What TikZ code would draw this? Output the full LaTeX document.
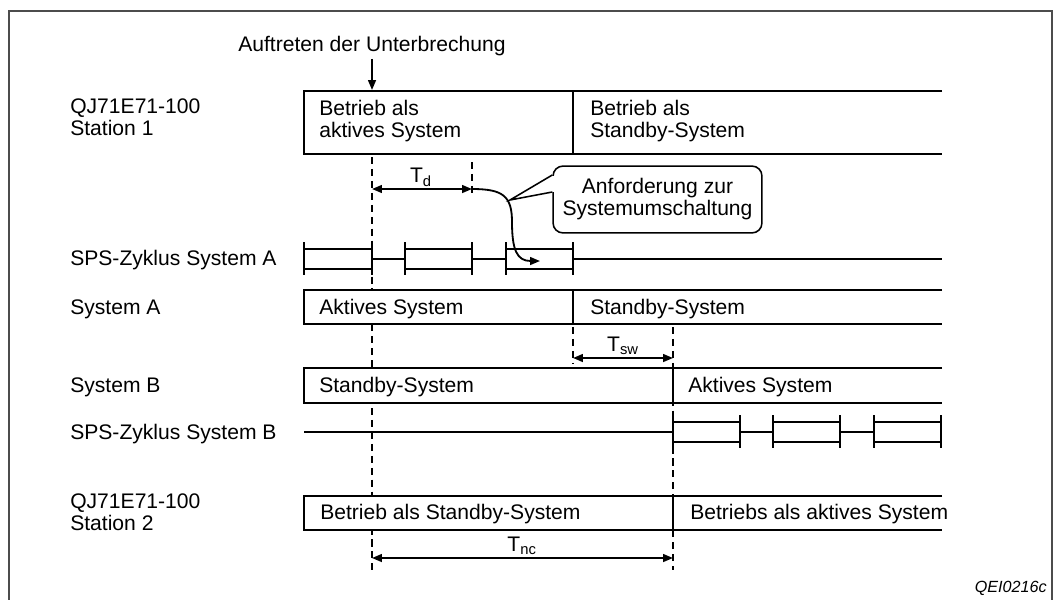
\documentclass[tikz,border=0pt]{standalone}
\usepackage{fontspec}
\setmainfont{Liberation Sans}
\usetikzlibrary{arrows.meta}

\tikzset{
  lbl/.style={anchor=west, inner sep=0pt, align=left, font=\fontsize{15}{15.6}\selectfont},
  dimlbl/.style={inner sep=0pt, font=\fontsize{15}{15.6}\selectfont},
  rowline/.style={line width=1.1pt},
  tick/.style={line width=1.5pt},
  guide/.style={line width=1.3pt, dash pattern=on 5pt off 3.5pt},
  dimline/.style={line width=1.3pt, {Triangle[length=7pt,width=5.5pt]}-{Triangle[length=7pt,width=5.5pt]}},
  pointer/.style={line width=1.3pt, -{Triangle[length=7pt,width=5.5pt]}},
}

\begin{document}
\begin{tikzpicture}[x=0.025cm, y=-0.025cm]
    \clip (0,0) rectangle (1059,599);
    % Frame
    \draw[black!70, line width=1pt] (9,11) rectangle (1052,640);
    % Guide lines (behind the rows)
    \draw[guide] (372,157) -- (372,570);
    \draw[guide] (472,162) -- (472,197);
    \draw[guide] (573,327) -- (573,364);
    \draw[guide] (673,327) -- (673,570);
    % Interruption
    \node[lbl] (brk) at (238,46) {Auftreten der Unterbrechung};
    \coordinate (brkend) at (372,90);
    \draw[pointer, shorten <=2pt] (brk.south -| brkend) -- (brkend);
    % Station 1
    \node[lbl] (st1) at (70,117) {QJ71E71-100\\Station 1};
    \fill[white] (304,91) rectangle (942,154);
    \draw[rowline] (942,91) -- (304,91) -- (304,154) -- (942,154);
    \draw[tick] (573,91) -- (573,154);
    \node[lbl] (st1act) at (319,121) {Betrieb als\\aktives System};
    \node[lbl] (st1stb) at (590,121) {Betrieb als\\Standby-System};
    % T_d and switch request
    \coordinate (tdA) at (372,189);
    \coordinate (tdB) at (472,189);
    \draw[dimline] (tdA) -- (tdB);
    \node[dimlbl] (td) at (421,177) {T\textsubscript{d}};
    \coordinate (req) at (540,261);
    \draw[pointer] (tdB) .. controls (503,189) and (512,196) .. (512,222)
        .. controls (512,250) and (517,261) .. (req);
    \node[dimlbl, align=center, draw, line width=1.1pt, rounded corners=7pt, fill=white,
          minimum width=5.22cm, minimum height=1.67cm] (callout) at (657.5,199.5)
          {Anforderung zur\\Systemumschaltung};
    \coordinate (tip) at (510,200);
    \fill[white] (551,176) rectangle (556,192);
    \draw[rowline, line join=miter] (callout.west |- 0,175) -- (tip) -- (callout.west |- 0,192);
    % PLC cycle system A
    \node[lbl] (cycA) at (70,260) {SPS-Zyklus System A};
    \foreach \xa/\xb in {304/372, 405/472, 506/573} {
        \draw[rowline] (\xa,249) -- (\xb,249) (\xa,269) -- (\xb,269);
        \draw[tick] (\xa,242) -- (\xa,275) (\xb,242) -- (\xb,275);
    }
    \draw[rowline] (372,259) -- (405,259) (472,259) -- (506,259) (573,259) -- (942,259);
    % System A
    \node[lbl] (sysA) at (70,309) {System A};
    \fill[white] (304,290) rectangle (942,324);
    \draw[rowline] (942,290) -- (304,290) -- (304,324) -- (942,324);
    \draw[tick] (573,290) -- (573,324);
    \node[lbl] (sysAact) at (319,309) {Aktives System};
    \node[lbl] (sysAstb) at (590,309) {Standby-System};
    % T_sw
    \coordinate (swA) at (573,358);
    \coordinate (swB) at (673,358);
    \draw[dimline] (swA) -- (swB);
    \node[dimlbl] (tsw) at (623,346) {T\textsubscript{sw}};
    % System B
    \node[lbl] (sysB) at (70,387) {System B};
    \fill[white] (304,368) rectangle (942,403);
    \draw[rowline] (942,368) -- (304,368) -- (304,403) -- (942,403);
    \draw[tick] (673,368) -- (673,403);
    \node[lbl] (sysBstb) at (319,387) {Standby-System};
    \node[lbl] (sysBact) at (688,387) {Aktives System};
    % PLC cycle system B
    \node[lbl] (cycB) at (70,434) {SPS-Zyklus System B};
    \draw[rowline] (304,432) -- (673,432) (740,432) -- (773,432) (840,432) -- (874,432);
    \foreach \xa/\xb in {673/740, 773/840, 874/941} {
        \draw[rowline] (\xa,422) -- (\xb,422) (\xa,442) -- (\xb,442);
        \draw[tick] (\xa,415) -- (\xa,448) (\xb,415) -- (\xb,448);
    }
    % Station 2
    \node[lbl] (st2) at (70,512) {QJ71E71-100\\Station 2};
    \fill[white] (304,496) rectangle (942,530);
    \draw[rowline] (942,496) -- (304,496) -- (304,530) -- (942,530);
    \draw[tick] (673,496) -- (673,530);
    \node[lbl] (st2stb) at (320,514) {Betrieb als Standby-System};
    \node[lbl] (st2act) at (690,514) {Betriebs als aktives System};
    % T_nc
    \coordinate (ncA) at (372,558);
    \coordinate (ncB) at (673,558);
    \draw[dimline] (ncA) -- (ncB);
    \node[dimlbl] (tnc) at (522,546) {T\textsubscript{nc}};
    % Figure id
    \node[anchor=east, inner sep=0pt, font=\fontsize{11.5}{12}\selectfont\itshape] (figid) at (1047,588) {QEI0216c};
\end{tikzpicture}
\end{document}
